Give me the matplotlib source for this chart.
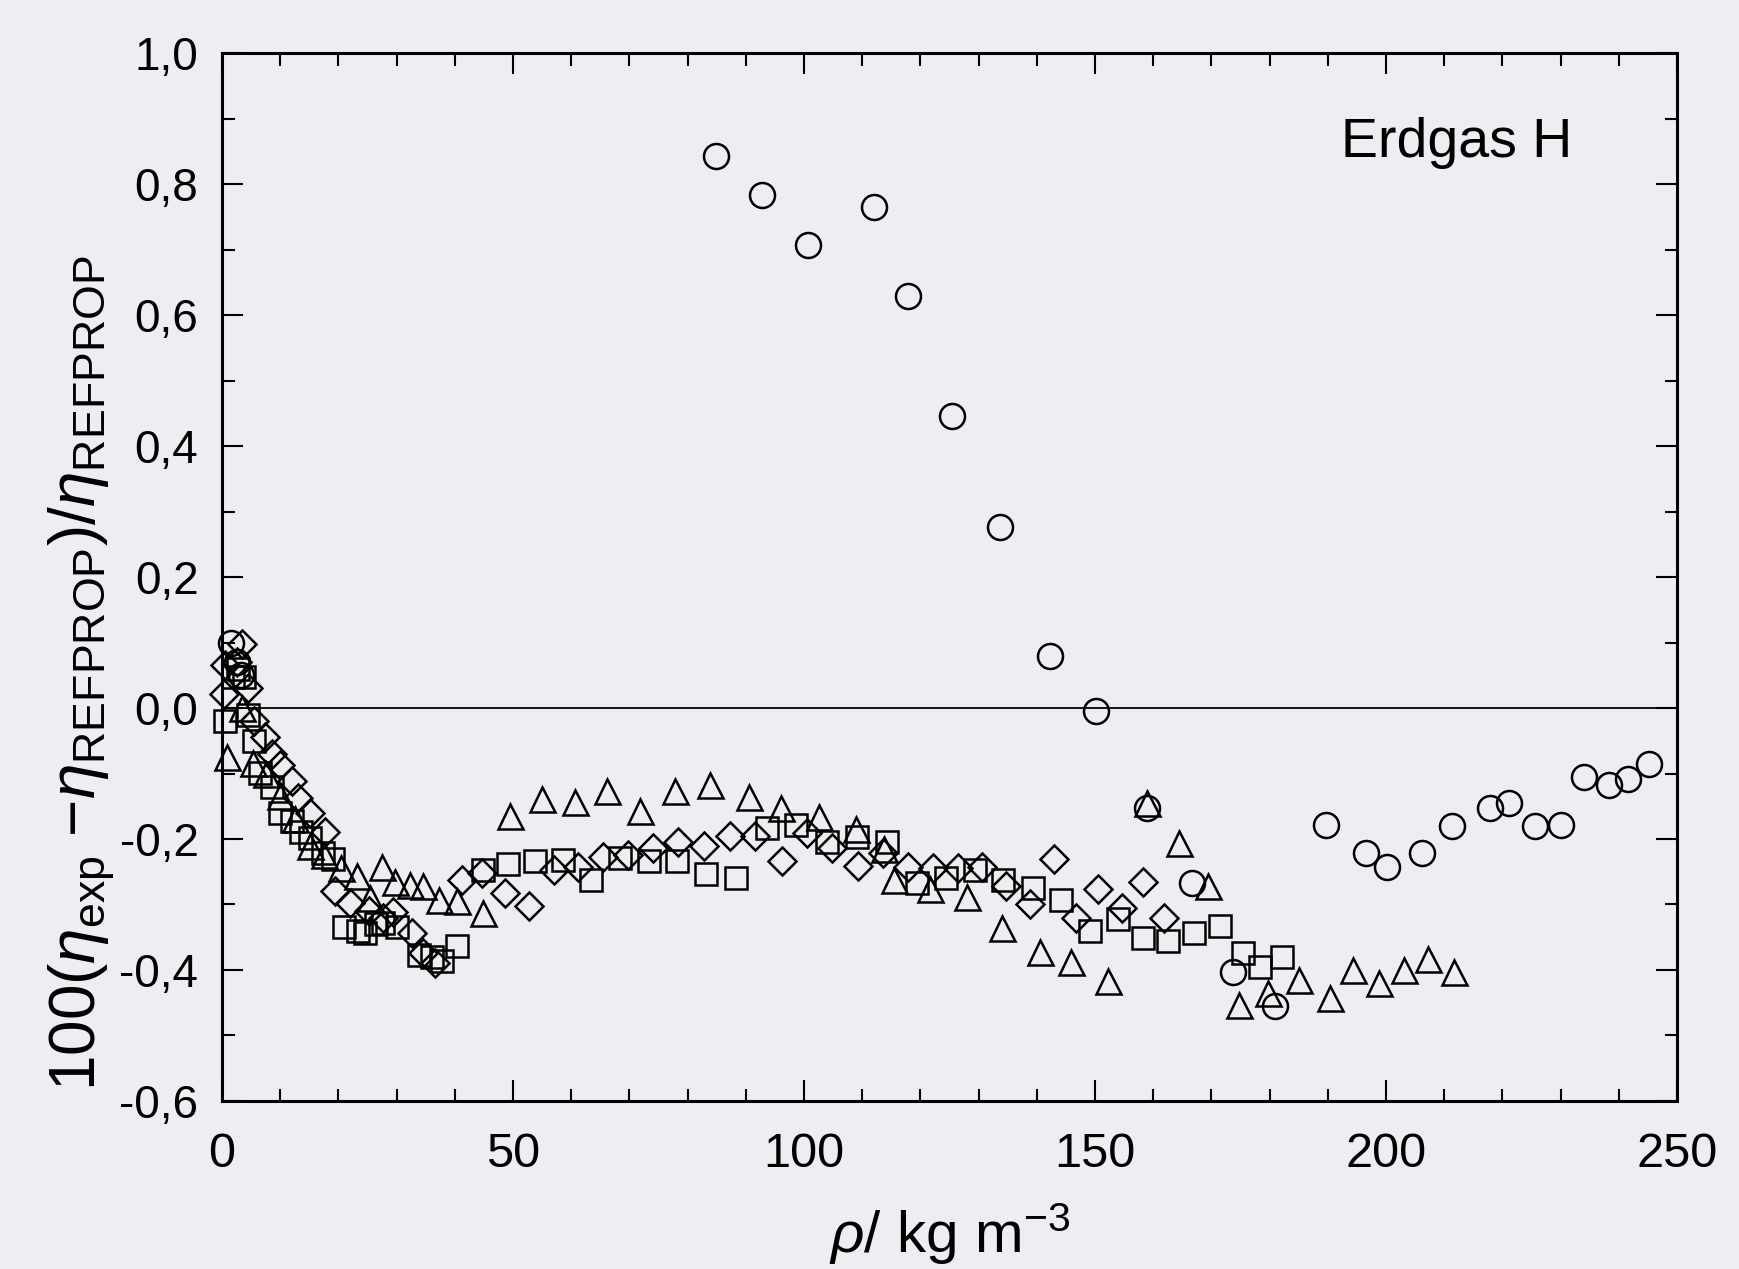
import matplotlib
matplotlib.use("Agg")
import matplotlib.pyplot as plt
from matplotlib.ticker import MultipleLocator, FuncFormatter

plt.rcParams['font.family'] = ['Liberation Sans', 'DejaVu Sans']
plt.rcParams['mathtext.fontset'] = 'custom'
plt.rcParams['mathtext.rm'] = 'Liberation Sans'
plt.rcParams['mathtext.it'] = 'Liberation Sans:italic'

# circles
x_circ = [1.5, 2.5, 3.2, 84.8, 92.8, 100.6, 112.0, 117.8, 125.4, 133.6, 142.3, 150.2, 158.9,
          166.7, 173.8, 181.0, 189.7, 196.5, 200.1, 206.2, 211.3, 217.9, 221.2, 225.6,
          230.1, 234.1, 238.3, 241.6, 245.2]
y_circ = [0.10, 0.07, 0.05, 0.843, 0.783, 0.707, 0.765, 0.629, 0.446, 0.277, 0.079, -0.004, -0.152,
          -0.267, -0.403, -0.455, -0.178, -0.222, -0.243, -0.221, -0.180, -0.153, -0.145, -0.180,
          -0.178, -0.106, -0.117, -0.109, -0.086]

# triangles
x_tri = [0.8, 3.5, 5.4, 7.5, 10.0, 12.5, 15.1, 17.5, 20.5, 23.2, 25.5, 27.5, 29.8, 32.3, 34.6,
         37.2, 40.4, 44.9, 49.5, 55.0, 60.6, 66.1, 71.8, 77.9, 83.8, 90.5, 96.1, 102.6, 108.9,
         113.7, 115.5, 121.7, 128.0, 134.0, 140.6, 145.9, 152.3, 158.9, 164.5, 169.5, 174.7,
         179.8, 185.0, 190.4, 194.4, 198.8, 203.1, 207.2, 211.7]
y_tri = [-0.075, 0.0, -0.084, -0.10, -0.135, -0.17, -0.21, -0.225, -0.245, -0.257, -0.29, -0.242,
         -0.265, -0.270, -0.272, -0.293, -0.295, -0.313, -0.165, -0.139, -0.144, -0.127, -0.157,
         -0.126, -0.118, -0.136, -0.153, -0.167, -0.185, -0.216, -0.262, -0.277, -0.288, -0.336,
         -0.372, -0.388, -0.417, -0.145, -0.206, -0.272, -0.453, -0.435, -0.415, -0.443, -0.400,
         -0.420, -0.400, -0.383, -0.403]

# squares
x_sq = [0.55, 1.9, 2.8, 3.7, 4.5, 5.5, 6.6, 8.5, 10.0, 12.0, 13.5, 15.1, 17.4, 19.0, 20.9, 23.3,
        24.6, 26.5, 27.7, 30.0, 33.8, 36.0, 37.8, 40.4, 44.9, 49.2, 53.8, 58.6, 63.4, 68.3, 73.3,
        78.1, 83.2, 88.3, 93.6, 98.7, 103.9, 109.1, 114.2, 119.5, 124.4, 129.4, 134.2, 139.4,
        144.2, 149.1, 153.9, 158.3, 162.6, 167.0, 171.4, 175.5, 178.3, 182.2]
y_sq = [-0.020, 0.048, 0.06, 0.048, -0.01, -0.05, -0.099, -0.12, -0.160, -0.173, -0.19, -0.199,
        -0.221, -0.23, -0.334, -0.341, -0.344, -0.33, -0.328, -0.335, -0.377, -0.38, -0.387,
        -0.364, -0.247, -0.238, -0.233, -0.232, -0.263, -0.229, -0.233, -0.233, -0.253, -0.260,
        -0.183, -0.178, -0.204, -0.197, -0.205, -0.267, -0.260, -0.247, -0.262, -0.275, -0.293,
        -0.340, -0.322, -0.351, -0.355, -0.344, -0.333, -0.374, -0.396, -0.380]

# diamonds
x_dia = [0.3, 0.5, 2.5, 3.4, 4.5, 5.5, 7.4, 8.5, 10.0, 12.0, 13.1, 15.1, 17.7, 19.4, 22.0, 25.2,
         27.6, 29.4, 32.6, 34.6, 36.6, 41.2, 44.6, 48.7, 52.7, 57.1, 61.2, 65.5, 69.8, 74.1, 78.4,
         82.9, 87.3, 91.6, 96.2, 100.5, 104.8, 109.3, 113.6, 117.9, 122.1, 126.4, 130.6, 134.7,
         138.9, 142.9, 146.8, 150.6, 154.6, 158.3, 161.9]
y_dia = [0.022, 0.066, 0.07, 0.097, 0.03, -0.02, -0.044, -0.07, -0.087, -0.112, -0.137, -0.160,
         -0.189, -0.280, -0.298, -0.31, -0.32, -0.311, -0.344, -0.374, -0.389, -0.262, -0.252,
         -0.283, -0.303, -0.247, -0.242, -0.227, -0.224, -0.214, -0.204, -0.211, -0.196, -0.196,
         -0.233, -0.191, -0.214, -0.241, -0.222, -0.242, -0.245, -0.245, -0.242, -0.272, -0.300,
         -0.231, -0.321, -0.276, -0.305, -0.265, -0.320]

bg = '#EEEEF2'
fig = plt.figure(figsize=(17.39, 12.69), dpi=100, facecolor=bg)
ax = fig.add_axes([0.1277, 0.1324, 0.8366, 0.8258], facecolor=bg)

ax.axhline(0, color='black', lw=1.3, zorder=1)

kw = dict(ls='none', mfc='none', mec='black', mew=1.8, clip_on=False, zorder=3)
ax.plot(x_sq, y_sq, marker='s', ms=16, **kw)
ax.plot(x_dia, y_dia, marker='D', ms=14.5, **kw)
ax.plot(x_tri, y_tri, marker='^', ms=18, **kw)
ax.plot(x_circ, y_circ, marker='o', ms=18, **kw)

ax.set_xlim(0, 250)
ax.set_ylim(-0.6, 1.0)
ax.xaxis.set_major_locator(MultipleLocator(50))
ax.xaxis.set_minor_locator(MultipleLocator(10))
ax.yaxis.set_major_locator(MultipleLocator(0.2))
ax.yaxis.set_minor_locator(MultipleLocator(0.1))
ax.yaxis.set_major_formatter(FuncFormatter(lambda v, p: f'{v:.1f}'.replace('.', ',').replace('-0,0', '0,0')))

ax.tick_params(which='both', direction='in', top=True, right=True, labelsize=33, width=1.5)
ax.tick_params(which='major', length=15)
ax.tick_params(which='minor', length=9)
ax.tick_params(axis='x', which='major', pad=22, labelsize=35)
ax.tick_params(axis='y', which='major', pad=17)
for s in ax.spines.values():
    s.set_linewidth(2.2)

ax.set_xlabel(r'$\rho$/ kg m$^{-3}$', fontsize=42, labelpad=18)
ax.set_ylabel(r'100($\eta_{\rm exp}$ $-$$\eta_{\rm REFPROP}$)/$\eta_{\rm REFPROP}$', fontsize=46)
ax.yaxis.set_label_coords(-0.072, 0.408)

ax.text(232, 0.863, 'Erdgas H', fontsize=40, ha='right', va='center')

fig.savefig('out.png', dpi=100, facecolor=bg)
